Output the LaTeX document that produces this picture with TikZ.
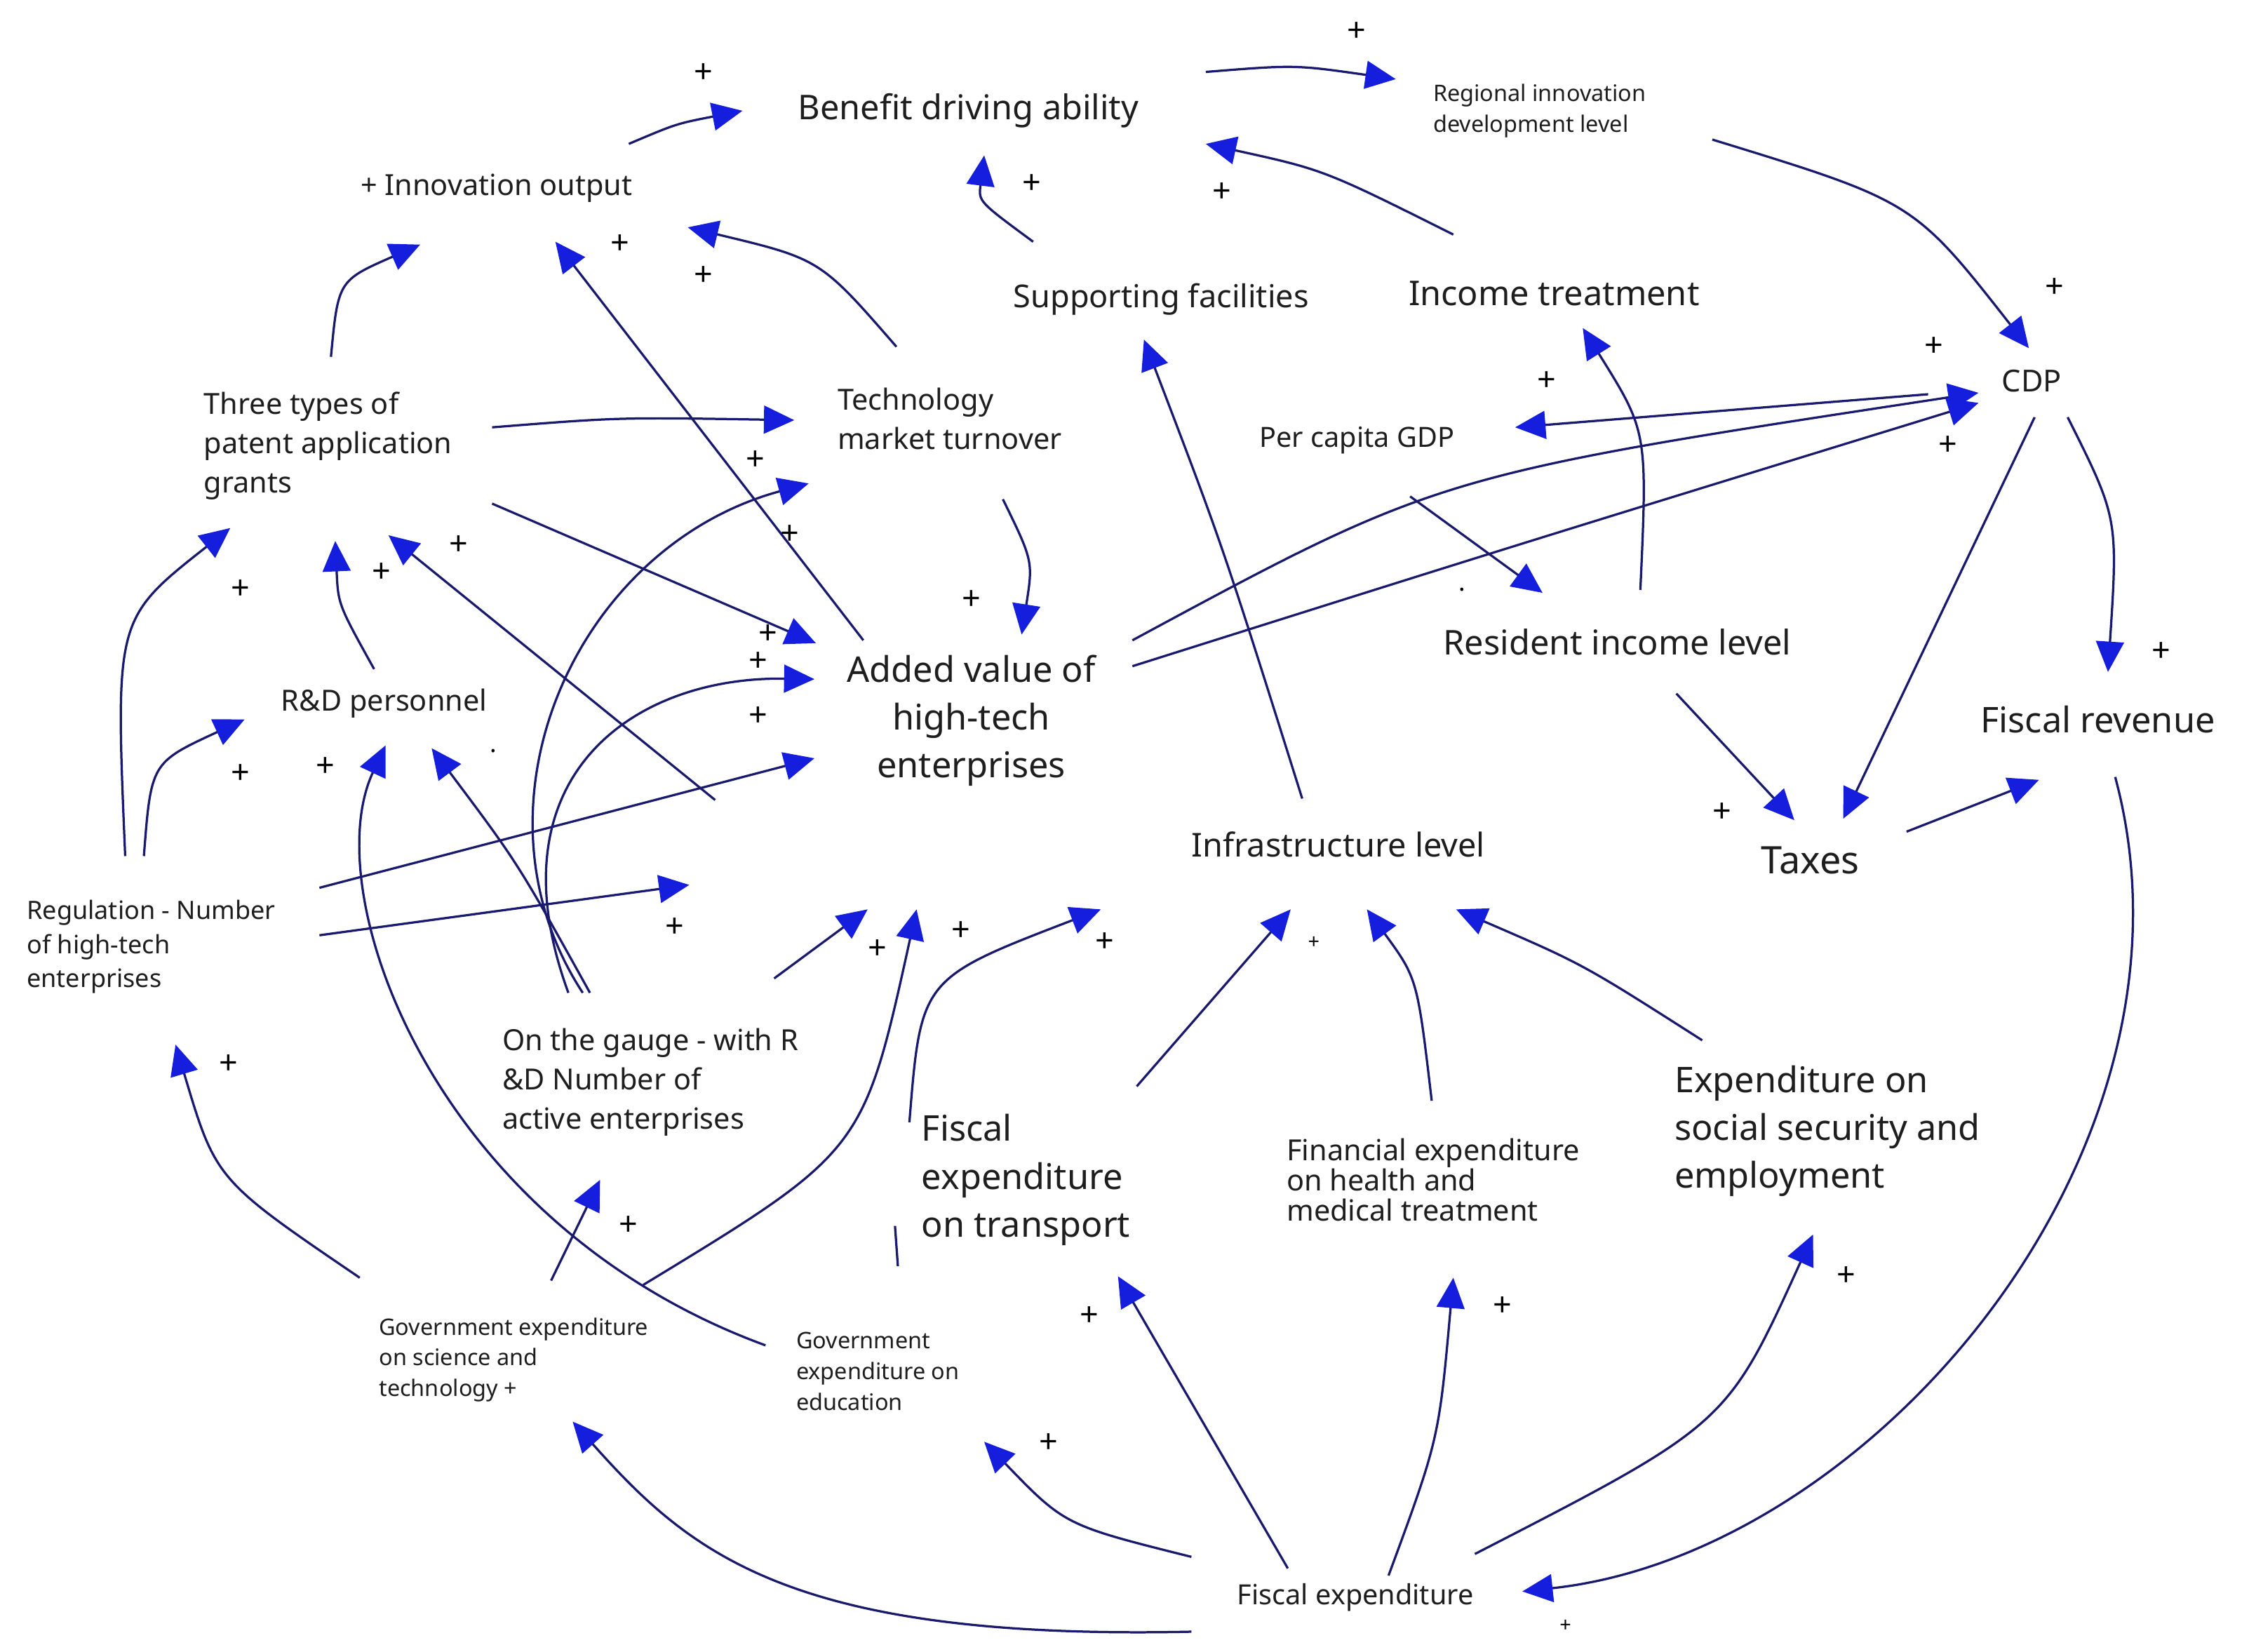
\documentclass[tikz,border=0pt]{standalone}
\usepackage{fontspec}
\setmainfont{Noto Sans}
\usetikzlibrary{arrows.meta}
\begin{document}
\begin{tikzpicture}[x=0.02cm,y=-0.02cm,
  arr/.style={draw={rgb,255:red,25;green,25;blue,110},line width=0.9pt,-{Triangle[length=12pt,width=11pt,color={rgb,255:red,20;green,30;blue,220}]}},
  lbl/.style={inner sep=1pt,text={rgb,255:red,30;green,30;blue,30}},
  pl/.style={font=\fontsize{13pt}{13pt}\selectfont\bfseries,inner sep=0pt},
  f/.style={font=\fontsize{#1pt}{1.35\dimexpr#1pt\relax}\selectfont}]
\useasboundingbox (0,0) rectangle (1563,1148);
\node[lbl,f=13.5] (benefit) at (673,77) {Benefit driving ability};
\node[lbl,f=9,align=left] (regional) at (1070,77) {Regional innovation\\development level};
\node[lbl,f=11.5] (innov) at (345,131) {+ Innovation output};
\node[lbl,f=12.5] (support) at (807,208) {Supporting facilities};
\node[lbl,f=13.5] (income) at (1080,204) {Income treatment};
\node[lbl,f=12] (cdp) at (1412,265) {CDP};
\node[lbl,f=11.5,align=left] (three) at (228,310) {Three types of\\patent application\\ grants};
\node[lbl,f=11.5,align=left] (tech) at (660,291) {Technology\\market turnover};
\node[lbl,f=11] (pc) at (943,306) {Per capita GDP};
\node[lbl,f=14,align=center] (added) at (675,501) {Added value of\\high-tech\\enterprises};
\node[lbl,f=13.5] (res) at (1124,446) {Resident income level};
\node[lbl,f=14] (fr) at (1458,500) {Fiscal revenue};
\node[lbl,f=11.5] (rd) at (267,489) {R\&D personnel};
\node[lbl,f=13] (infra) at (930,587) {Infrastructure level};
\node[lbl,f=15] (tax) at (1258,598) {Taxes};
\node[lbl,f=10,align=left] (reg) at (105,658) {Regulation - Number\\of high-tech\\enterprises};
\node[lbl,f=11.5,align=left] (gauge) at (452,752) {On the gauge - with R\\\&D Number of\\active enterprises};
\node[lbl,f=14,align=left] (ft) at (713,820) {Fiscal\\expenditure\\on transport};
\node[lbl,align=left,font=\fontsize{11.5pt}{12pt}\selectfont] (health) at (996,820) {Financial expenditure\\on health and\\medical treatment};
\node[lbl,f=14,align=left] (social) at (1270,786) {Expenditure on\\social security and\\ employment};
\node[lbl,f=9,align=left] (gs) at (357,945) {Government expenditure\\ on science and\\technology +};
\node[lbl,f=9,align=left] (ge) at (610,953) {Government\\expenditure on\\education};
\node[lbl,f=11] (fe) at (942,1110) {Fiscal expenditure};
% connectors
\draw[arr] (437,100) .. controls (470,86) .. (516,77);
\draw[arr] (838,50) .. controls (900,45) .. (970,55);
\draw[arr] (1190,97) .. controls (1330,140) .. (1410,242);
\draw[arr] (718,168) .. controls (680,140) .. (684,108);
\draw[arr] (1010,163) .. controls (920,118) .. (838,100);
\draw[arr] (230,248) .. controls (235,195) .. (292,170);
\draw[arr] (342,297) .. controls (430,290) .. (552,292);
\draw[arr] (342,350) -- (567,447);
\draw[arr] (623,241) .. controls (570,180) .. (478,158);
\draw[arr] (697,347) .. controls (718,390) .. (710,441);
\draw[arr] (600,445) -- (386,168);
\draw[arr] (787,445) .. controls (1000,330) .. (1375,273);
\draw[arr] (787,463) .. controls (1050,380) .. (1375,280);
\draw[arr] (1340,274) -- (1053,297);
\draw[arr] (980,345) -- (1072,412);
\draw[arr] (1140,410) .. controls (1145,300) .. (1100,228);
\draw[arr] (1165,482) -- (1247,570);
\draw[arr] (1414,290) -- (1281,569);
\draw[arr] (1437,290) .. controls (1472,360) .. (1465,467);
\draw[arr] (1325,578) -- (1417,542);
\draw[arr] (1470,540) .. controls (1540,800) and (1300,1080) .. (1058,1106);
\draw[arr] (905,555) .. controls (850,380) .. (795,236);
\draw[arr] (260,465) .. controls (235,420) .. (233,376);
\draw[arr] (497,556) -- (270,372);
\draw[arr] (87,595) .. controls (80,430) .. (160,367);
\draw[arr] (100,595) .. controls (105,530) .. (170,500);
\draw[arr] (222,617) -- (566,527);
\draw[arr] (222,650) -- (479,615);
\draw[arr] (405,690) .. controls (320,560) and (400,380) .. (562,336);
\draw[arr] (395,690) .. controls (340,540) and (440,470) .. (566,472);
\draw[arr] (410,690) .. controls (360,600) .. (300,520);
\draw[arr] (538,680) -- (603,632);
\draw[arr] (250,888) .. controls (150,820) .. (122,726);
\draw[arr] (383,890) -- (417,820);
\draw[arr] (447,893) .. controls (600,800) .. (637,632);
\draw[arr] (532,935) .. controls (300,850) and (220,620) .. (268,518);
\draw[arr] (632,780) .. controls (640,680) .. (765,632);
\draw[draw={rgb,255:red,25;green,25;blue,110},line width=0.9pt] (622,852) -- (624,880);
\draw[arr] (790,755) -- (897,632);
\draw[arr] (995,765) .. controls (985,680) .. (950,632);
\draw[arr] (1183,723) .. controls (1100,670) .. (1012,632);
\draw[arr] (895,1090) -- (777,887);
\draw[arr] (965,1095) .. controls (1000,1000) .. (1010,888);
\draw[arr] (1025,1080) .. controls (1200,990) .. (1260,858);
\draw[arr] (828,1082) .. controls (740,1060) .. (684,1002);
\draw[arr] (828,1134) .. controls (550,1140) and (480,1080) .. (398,988);
% polarity signs
\foreach \p in {(943,22),(489,51),(717,128),(849,134),(1428,200),(1344,241),(1075,265),(1354,310),(489,192),(431,170),(525,320),(549,372),(675,417),(534,441),(527,460),(527,498),(319,379),(265,398),(167,410),(167,538),(226,533),(1502,453),(1197,565),(469,645),(610,660),(668,647),(768,655),(159,740),(437,852),(757,915),(729,1003),(1044,908),(1283,887)}
  \node[pl] at \p {+};
\node[inner sep=0pt,font=\fontsize{8pt}{8pt}\selectfont] at (913,655) {+};
\node[inner sep=0pt,font=\fontsize{8pt}{8pt}\selectfont] at (1088,1130) {+};
\node[inner sep=0pt,font=\bfseries] at (343,522) {.};
\node[inner sep=0pt,font=\bfseries] at (1016,410) {.};
\end{tikzpicture}
\end{document}
